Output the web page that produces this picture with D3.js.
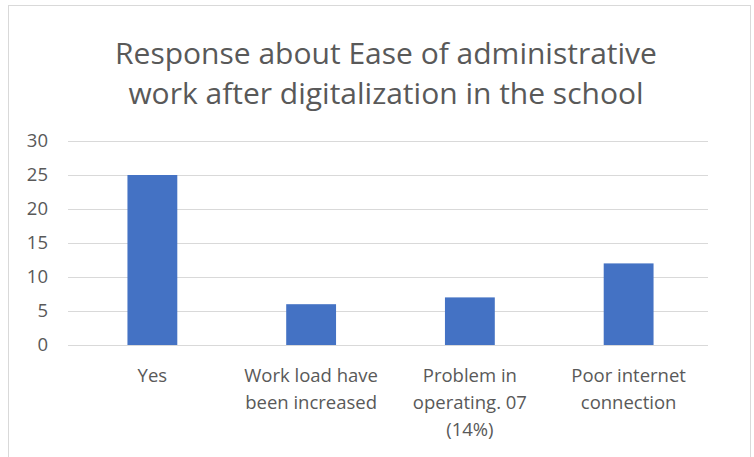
<!DOCTYPE html>
<html><head><meta charset="utf-8">
<script src="https://cdn.jsdelivr.net/npm/d3@7"></script>
<style>body{margin:0;background:#fff}svg{display:block;font-family:"Open Sans","Liberation Sans",sans-serif}</style>
</head><body><svg id="c" width="754" height="457"></svg>
<script>
const categories = [["Yes"], ["Work load have", "been increased"], ["Problem in", "operating. 07", "(14%)"], ["Poor internet", "connection"]];
const values = [25, 6, 7, 12];
const yTicks = [0, 5, 10, 15, 20, 25, 30];
const titleLines = ["Response about Ease of administrative", "work after digitalization in the school"];

const svg = d3.select("#c");
svg.append("rect").attr("x", 8.5).attr("y", 5.5).attr("width", 742).attr("height", 460)
  .attr("fill", "#fff").attr("stroke", "#d9d9d9");

const x = d3.scaleBand().domain(d3.range(categories.length)).range([73, 708]).paddingInner(0.686).paddingOuter(0.343);
const y = d3.scaleLinear().domain([0, 30]).range([345, 141]);

svg.append("g").selectAll("line").data(yTicks).join("line")
  .attr("x1", 68).attr("x2", 708).attr("y1", d => y(d) + 0.5).attr("y2", d => y(d) + 0.5)
  .attr("stroke", "#d9d9d9").attr("stroke-width", 1);

svg.append("g").selectAll("text").data(yTicks).join("text")
  .attr("x", 48).attr("y", d => y(d)).attr("dy", "0.35em").attr("text-anchor", "end")
  .attr("font-size", 18.5).attr("fill", "#595959").text(d => d);

svg.append("g").selectAll("rect").data(values).join("rect")
  .attr("x", (d, i) => x(i)).attr("width", x.bandwidth())
  .attr("y", d => y(d)).attr("height", d => y(0) - y(d)).attr("fill", "#4472C4");

const cl = svg.append("g").selectAll("text").data(categories).join("text")
  .attr("text-anchor", "middle").attr("font-size", 18.5).attr("fill", "#595959");
cl.selectAll("tspan").data((d, i) => d.map(s => ({s, i}))).join("tspan")
  .attr("x", d => x(d.i) + x.bandwidth() / 2).attr("y", (d, j) => 382 + j * 27).text(d => d.s);

svg.append("g").selectAll("text").data(titleLines).join("text")
  .attr("x", 386).attr("y", (d, i) => 64 + i * 40).attr("text-anchor", "middle")
  .attr("font-size", 30).attr("fill", "#595959").text(d => d);
</script></body></html>
